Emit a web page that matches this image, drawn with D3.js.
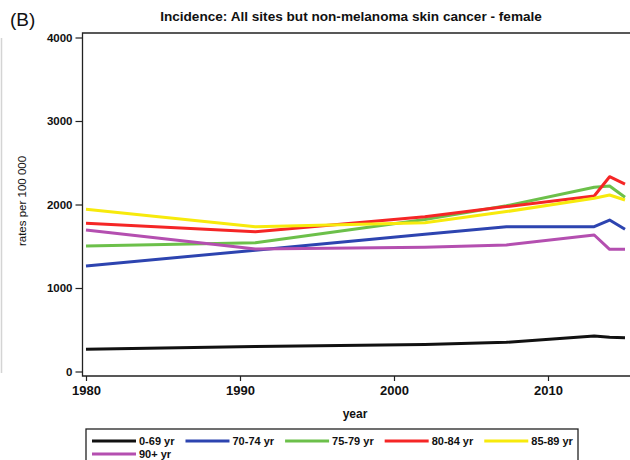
<!DOCTYPE html>
<html>
<head>
<meta charset="utf-8">
<script src="https://cdn.jsdelivr.net/npm/d3@7"></script>
<style>
  body { margin: 0; background: #fff; }
  svg { display: block; font-family: "Liberation Sans", Arial, sans-serif; }
</style>
</head>
<body>
<svg id="chart" width="630" height="460"></svg>
<script>
// Observation years (positions along the year axis)
const years = [1980, 1991, 2002, 2007.3, 2013, 2014, 2015];

// Age groups and their line colours
const ageGroups = ["0-69 yr", "70-74 yr", "75-79 yr", "80-84 yr", "85-89 yr", "90+ yr"];
const groupColors = ["#111111", "#2d44b0", "#6cc04a", "#f52626", "#f7ea0c", "#b44fb0"];

// Incidence rates per 100 000, one array per age group
const rates0to69  = [266, 300, 322, 350, 425, 410, 405];
const rates70to74 = [1263, 1453, 1643, 1734, 1734, 1814, 1703];
const rates75to79 = [1503, 1543, 1820, 1985, 2206, 2222, 2086];
const rates80to84 = [1775, 1674, 1854, 1975, 2102, 2333, 2245];
const rates85to89 = [1943, 1734, 1782, 1915, 2074, 2114, 2054];
const rates90plus = [1695, 1467, 1487, 1515, 1635, 1463, 1463];

const yTicks = [0, 1000, 2000, 3000, 4000];
const xTicks = [1980, 1990, 2000, 2010];

const seriesRates = [rates0to69, rates70to74, rates75to79, rates80to84, rates85to89, rates90plus];
const series = ageGroups.map((name, i) => ({
  name, color: groupColors[i],
  points: years.map((yr, j) => ({ year: yr, rate: seriesRates[i][j] }))
}));

const svg = d3.select("#chart");

// Plot frame
const frame = { left: 82.5, right: 640, top: 33, bottom: 376 };

const x = d3.scaleLinear().domain([1980, 2010]).range([86, 548]);
const y = d3.scaleLinear().domain([0, 4000]).range([371.5, 37.5]);

// Faint panel divider on the far left
svg.append("line")
  .attr("x1", 1.5).attr("x2", 1.5).attr("y1", 38).attr("y2", 373)
  .attr("stroke", "#d4d4d4").attr("stroke-width", 1.5);

// Panel label and title
svg.append("text").attr("x", 10).attr("y", 26)
  .attr("font-size", 19).attr("fill", "#111").text("(B)");
svg.append("text").attr("x", 351).attr("y", 21)
  .attr("text-anchor", "middle").attr("font-size", 13.6).attr("font-weight", "bold")
  .attr("fill", "#111")
  .text("Incidence: All sites but non-melanoma skin cancer - female");

// Frame lines: top, left, bottom
const frameG = svg.append("g").attr("stroke", "#222").attr("stroke-width", 1.3).attr("fill", "none");
frameG.append("path")
  .attr("d", `M${frame.right},${frame.top}H${frame.left}V${frame.bottom}H${frame.right}`);

// Y axis
const yAxis = svg.append("g")
  .attr("transform", `translate(${frame.left},0)`)
  .call(d3.axisLeft(y).tickValues(yTicks).tickSize(7).tickPadding(3).tickFormat(d3.format("d")));
yAxis.select(".domain").remove();
yAxis.selectAll(".tick line").attr("stroke", "#222").attr("stroke-width", 1.2);
yAxis.selectAll(".tick text")
  .attr("font-size", 11.5).attr("font-weight", "bold").attr("fill", "#111")
  .attr("font-family", "'Liberation Sans', Arial, sans-serif");

// X axis
const xAxis = svg.append("g")
  .attr("transform", `translate(0,${frame.bottom})`)
  .call(d3.axisBottom(x).tickValues(xTicks).tickSize(5).tickPadding(5).tickFormat(d3.format("d")));
xAxis.select(".domain").remove();
xAxis.selectAll(".tick line").attr("stroke", "#222").attr("stroke-width", 1.2);
xAxis.selectAll(".tick text")
  .attr("font-size", 13).attr("font-weight", "bold").attr("fill", "#111")
  .attr("font-family", "'Liberation Sans', Arial, sans-serif");

// Axis titles
svg.append("text").attr("x", 355).attr("y", 418)
  .attr("text-anchor", "middle").attr("font-size", 12).attr("font-weight", "bold")
  .attr("fill", "#111").text("year");
svg.append("text")
  .attr("transform", "translate(26,201) rotate(-90)")
  .attr("text-anchor", "middle").attr("font-size", 11.5).attr("fill", "#111")
  .text("rates per 100 000");

// Lines
const line = d3.line().x(d => x(d.year)).y(d => y(d.rate));
svg.append("g").selectAll("path")
  .data(series)
  .join("path")
  .attr("d", d => line(d.points))
  .attr("fill", "none")
  .attr("stroke", d => d.color)
  .attr("stroke-width", 3)
  .attr("stroke-linejoin", "round");

// Legend
const legendBox = { left: 86, right: 578, top: 429 };
svg.append("rect")
  .attr("x", legendBox.left).attr("y", legendBox.top)
  .attr("width", legendBox.right - legendBox.left).attr("height", 60)
  .attr("fill", "#fff").attr("stroke", "#222").attr("stroke-width", 1.3);

const legendRows = [[0, 1, 2, 3, 4], [5]];
const rowY = [441, 454];
legendRows.forEach((row, r) => {
  let cx = 92;
  row.forEach(i => {
    const g = svg.append("g");
    g.append("line")
      .attr("x1", cx).attr("x2", cx + 44).attr("y1", rowY[r]).attr("y2", rowY[r])
      .attr("stroke", groupColors[i]).attr("stroke-width", 3);
    const t = g.append("text")
      .attr("x", cx + 47).attr("y", rowY[r] + 4)
      .attr("font-size", 11).attr("font-weight", "bold").attr("fill", "#111")
      .text(ageGroups[i]);
    cx += 47 + t.node().getComputedTextLength() + 11;
  });
});
</script>
</body>
</html>
